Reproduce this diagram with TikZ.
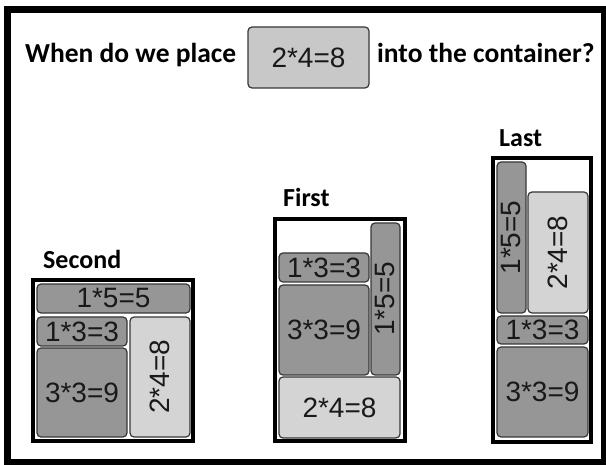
\documentclass[tikz,border=0pt]{standalone}
\usepackage{fontspec}
\setmainfont{Liberation Sans}
\newfontfamily\calfont{Carlito}
\usepackage{graphicx}
\definecolor{darkfill}{RGB}{150,150,150}
\definecolor{lightfill}{RGB}{212,212,212}
\definecolor{headfill}{RGB}{200,200,200}
\definecolor{boxline}{RGB}{55,55,55}
\begin{document}
\begin{tikzpicture}[x=1pt,y=-1pt,
  cell/.style={draw=boxline, line width=1.2pt, rounded corners=4pt, inner sep=0pt,
    font=\fontsize{28}{28}\selectfont, text=black!90},
  darkbox/.style={cell, fill=darkfill},
  lightbox/.style={cell, fill=lightfill},
  headbox/.style={cell, fill=headfill},
  container/.style={draw=black, line width=4pt},
  title/.style={anchor=base west, inner sep=0pt, font=\calfont\bfseries\fontsize{26}{26}\selectfont},
  question/.style={anchor=base west, inner sep=0pt, font=\calfont\bfseries\fontsize{27.5}{27.5}\selectfont}]
\useasboundingbox (0,0) rectangle (606,465);
\fill[white] (0,0) rectangle (606,465);
% outer frame
\draw[line width=7pt] (7,10) rectangle (604,463);

% question
\node[question] (q1) at (25,63) {When do we place};
\node[headbox, minimum width=121pt, minimum height=61pt] (hb) at (308.5,57.5) {2*4=8};
\node[question] (q2) at (377,63) {into the container?};

% Second
\node[title] (tsecond) at (43,269) {Second};
\draw[container] (33,280) rectangle (192.5,441);
\node[darkbox, minimum width=153pt, minimum height=29pt] (s15) at (113.5,298.5) {1*5=5};
\node[darkbox, minimum width=90pt, minimum height=29pt] (s13) at (82,331.5) {1*3=3};
\node[darkbox, minimum width=90pt, minimum height=89pt] (s33) at (82,392.5) {3*3=9};
\node[lightbox, minimum width=60pt, minimum height=120pt] (s24) at (160,377) {\rotatebox{90}{2*4=8}};

% First
\node[title] (tfirst) at (283,207) {First};
\draw[container] (274.5,219.5) rectangle (404.5,441.5);
\node[darkbox, minimum width=29pt, minimum height=152pt] (f15) at (385.5,299) {\rotatebox{90}{1*5=5}};
\node[darkbox, minimum width=90pt, minimum height=29pt] (f13) at (324,267.5) {1*3=3};
\node[darkbox, minimum width=90pt, minimum height=90pt] (f33) at (324,330) {3*3=9};
\node[lightbox, minimum width=121pt, minimum height=61pt] (f24) at (339.5,407.5) {2*4=8};

% Last
\node[title] (tlast) at (499,147) {Last};
\draw[container] (493,158) rectangle (590.5,442);
\node[darkbox, minimum width=29pt, minimum height=151pt] (l15) at (511.5,237.5) {\rotatebox{90}{1*5=5}};
\node[lightbox, minimum width=60pt, minimum height=121pt] (l24) at (558,252.5) {\rotatebox{90}{2*4=8}};
\node[darkbox, minimum width=91pt, minimum height=28pt] (l13) at (542.5,330) {1*3=3};
\node[darkbox, minimum width=91pt, minimum height=90pt] (l33) at (542.5,392) {3*3=9};
\end{tikzpicture}
\end{document}
